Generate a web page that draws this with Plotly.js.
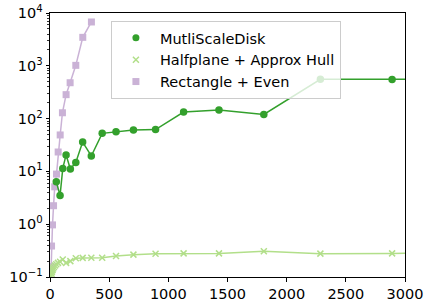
<!DOCTYPE html>
<html>
<head>
<meta charset="utf-8">
<script src="https://cdn.plot.ly/plotly-3.0.1.min.js"></script>
<style>html,body{margin:0;padding:0;background:#fff;}#chart{width:432px;height:307px;}</style>
</head>
<body>
<div id="chart"></div>
<script>
// MutliScaleDisk
const diskX = [53, 85, 108, 136, 172, 218, 276, 349, 441, 558, 705, 892, 1129, 1428, 1807, 2285, 2891, 3657];
const diskY = [6.4, 3.5, 11.4, 20.5, 11.1, 14.8, 36, 19.6, 52.6, 56.5, 61, 62, 133, 145, 120, 555, 550, 560];
// Halfplane + Approx Hull
const hullX = [10, 13, 16, 21, 26, 33, 42, 53, 67, 85, 108, 136, 172, 218, 276, 349, 441, 558, 705, 892, 1129, 1428, 1807, 2285, 2891, 3657];
const hullY = [0.105, 0.115, 0.125, 0.135, 0.145, 0.155, 0.165, 0.175, 0.185, 0.195, 0.215, 0.185, 0.2, 0.226, 0.23, 0.232, 0.232, 0.25, 0.265, 0.275, 0.28, 0.28, 0.307, 0.277, 0.28, 0.282];
// Rectangle + Even
const rectX = [10, 13, 21, 30, 40, 55, 69, 86, 105, 136, 170, 218, 277, 350];
const rectY = [0.157, 0.386, 0.97, 2.24, 5.1, 8.9, 23.3, 49, 129, 284, 478, 1020, 3460, 6760];
// tick labels
const yTickVals = [0.1, 1, 10, 100, 1000, 10000];
const yTickText = ['10<sup>\u22121</sup>', '10<sup>0</sup>', '10<sup>1</sup>', '10<sup>2</sup>', '10<sup>3</sup>', '10<sup>4</sup>'];
const xTickVals = [0, 500, 1000, 1500, 2000, 2500, 3000];
const names = ['MutliScaleDisk', 'Halfplane + Approx Hull', 'Rectangle + Even'];

const cDisk = '#33a02c', cHull = '#b2df8a', cRect = '#cab2d6';

const traces = [
  {x: rectX, y: rectY, mode: 'lines+markers', showlegend: false,
   line: {color: cRect, width: 1.5}, marker: {color: cRect, symbol: 'square', size: 7}},
  {x: hullX, y: hullY, mode: 'lines+markers', showlegend: false,
   line: {color: cHull, width: 1.5}, marker: {color: cHull, symbol: 'x-thin', size: 6, line: {color: cHull, width: 1.5}}},
  {x: diskX, y: diskY, mode: 'lines+markers', showlegend: false,
   line: {color: cDisk, width: 1.5}, marker: {color: cDisk, symbol: 'circle', size: 7.5}},
  // legend entries (markers only)
  {x: [null], y: [null], mode: 'markers', name: names[0], marker: {color: cDisk, symbol: 'circle', size: 7}},
  {x: [null], y: [null], mode: 'markers', name: names[1], marker: {color: cHull, symbol: 'x-thin', size: 6, line: {color: cHull, width: 1.5}}},
  {x: [null], y: [null], mode: 'markers', name: names[2], marker: {color: cRect, symbol: 'square', size: 7}}
];

const font = {family: 'DejaVu Sans', size: 14.5, color: '#000'};

const layout = {
  width: 432, height: 307,
  margin: {l: 50, r: 26.5, t: 13, b: 30, pad: 0},
  paper_bgcolor: '#fff', plot_bgcolor: '#fff',
  font: font,
  showlegend: true,
  xaxis: {
    range: [0, 3000], tickmode: 'array', tickvals: xTickVals,
    showgrid: false, zeroline: false, showline: true, mirror: true,
    linecolor: '#000', linewidth: 1, ticks: 'outside', ticklen: 3.5, tickwidth: 1, tickcolor: '#000',
    tickfont: font
  },
  yaxis: {
    type: 'log', range: [-1, 4], tickmode: 'array', tickvals: yTickVals, ticktext: yTickText,
    showgrid: false, zeroline: false, showline: true, mirror: true,
    linecolor: '#000', linewidth: 1, ticks: 'outside', ticklen: 3.5, tickwidth: 1, tickcolor: '#000',
    tickfont: font,
    minor: {ticks: 'outside', ticklen: 2, tickwidth: 0.8, tickcolor: '#000', dtick: 'D1', showgrid: false}
  },
  legend: {
    x: 0.1716, y: 0.97, xanchor: 'left', yanchor: 'top',
    bgcolor: 'rgba(255,255,255,0.8)', bordercolor: '#cccccc', borderwidth: 1,
    font: font, itemwidth: 38, tracegroupgap: 0
  }
};

Plotly.newPlot('chart', traces, layout, {staticPlot: true, displayModeBar: false});
</script>
</body>
</html>
